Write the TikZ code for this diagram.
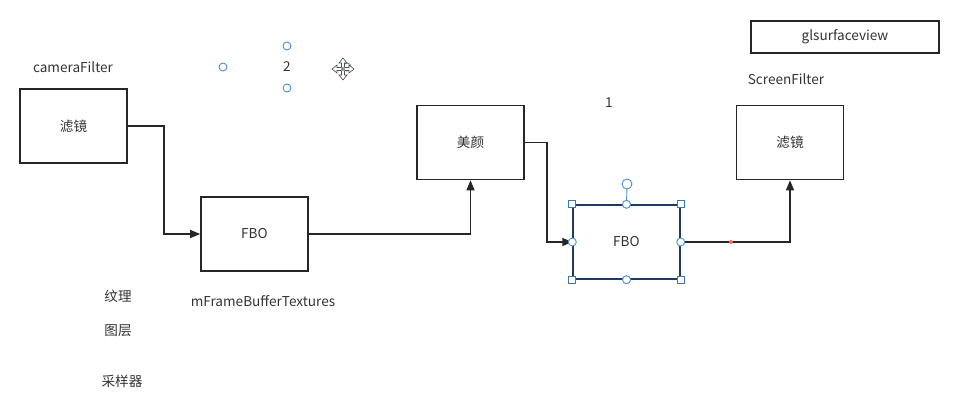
\documentclass[tikz,border=0pt]{standalone}
\usepackage{fontspec}
\setmainfont{Noto Sans CJK SC}
\usetikzlibrary{arrows.meta}
\definecolor{txt}{HTML}{333333}
\definecolor{handle}{HTML}{4A90D9}
\definecolor{selb}{HTML}{1F3A5F}
\begin{document}
\begin{tikzpicture}[x=1pt,y=-1pt,
  box/.style={draw=black!85,line width=1.6pt,fill=white,minimum width=107pt,minimum height=74pt,inner sep=0pt,font=\fontsize{13.6}{15}\selectfont,text=txt},
  lbl/.style={font=\fontsize{13.6}{15}\selectfont,text=txt,inner sep=0pt},
  conn/.style={draw=black!85,line width=1.3pt,-{Triangle[length=10pt,width=8pt]}},
  hc/.style={circle,draw=handle,fill=white,line width=0.9pt,minimum size=8pt,inner sep=0pt},
  hs/.style={rectangle,draw=handle!70!selb,fill=white,line width=0.9pt,minimum size=7pt,inner sep=0pt}]
\useasboundingbox (0,0) rectangle (963,414);
% boxes
\node[box] (f1) at (73.5,126) {滤镜};
\node[box] (fbo1) at (254.5,234) {FBO};
\node[box] (my) at (470.5,142.5) {美颜};
\node[box,draw=selb,line width=1.4pt] (fbo2) at (626.5,242) {FBO};
\node[box] (f2) at (790,142.5) {滤镜};
\node[box,minimum width=188pt,minimum height=32pt] (gl) at (845,37) {glsurfaceview};
% labels
\node[lbl] (lcam) at (73,67) {cameraFilter};
\node[lbl] (ltwo) at (287,67) {2};
\node[lbl] (lone) at (609,103) {1};
\node[lbl] (lscr) at (786,79) {ScreenFilter};
\node[lbl] (lwl) at (118,296) {纹理};
\node[lbl] (ltc) at (118,331) {图层};
\node[lbl] (lcy) at (122,381) {采样器};
\node[lbl] (lmfb) at (263,301) {mFrameBufferTextures};
% connectors
\draw[conn] (f1.east) -- (164,126) |- (fbo1.west);
\draw[conn] (fbo1.east) -| (my.south);
\draw[conn] (my.east) -- (547,142.5) |- (fbo2.west);
\coordinate (rd) at (731,242);
\draw[conn] (fbo2.east) -| (f2.south);
\fill[red!60] (rd) circle (2pt);
% selection handles on fbo2
\coordinate (rot) at (627,184);
\draw[handle,line width=0.9pt] (fbo2.north) -- (rot);
\node[hc,minimum size=10pt] (hrot) at (rot) {};
\foreach \a in {north west,north east,south west,south east}
  \node[hs] at (fbo2.\a) {};
\foreach \a in {north,south,east,west}
  \node[hc] at (fbo2.\a) {};
% handles around "2"
\node[hc] (h1) at (287,46) {};
\node[hc] (h2) at (223,67) {};
\node[hc] (h3) at (287,88) {};
\node[hc] (h4) at (347,67) {};
% move cursor
\begin{scope}[shift={(343,69)}]
  \foreach \r in {0,90,180,270}
   \filldraw[rotate=\r,fill=white,draw=black!70,line width=0.6pt]
     (-1.5,0) -- (-1.5,-6) -- (-4,-6) -- (0,-11) -- (4,-6) -- (1.5,-6) -- (1.5,0) -- cycle;
  \fill[black!40] (-2,-2) rectangle (2,2);
\end{scope}
\end{tikzpicture}
\end{document}
